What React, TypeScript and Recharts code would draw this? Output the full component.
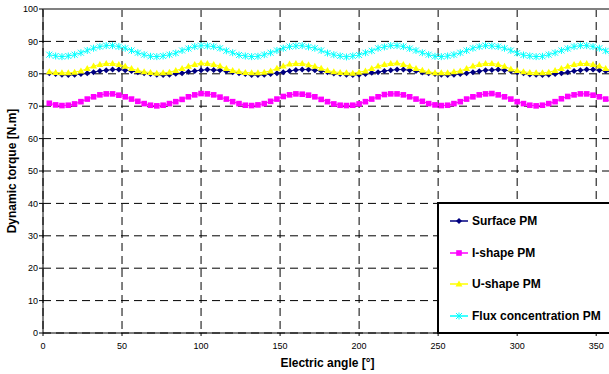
import React from 'react';
import { LineChart, Line, XAxis, YAxis, CartesianGrid, Legend, ReferenceLine } from 'recharts';

// electric angle [deg], one sample every 4 degrees
const angles = [
  4, 8, 12, 16, 20, 24, 28, 32, 36, 40, 44, 48, 52, 56, 60,
  64, 68, 72, 76, 80, 84, 88, 92, 96, 100, 104, 108, 112, 116, 120,
  124, 128, 132, 136, 140, 144, 148, 152, 156, 160, 164, 168, 172, 176, 180,
  184, 188, 192, 196, 200, 204, 208, 212, 216, 220, 224, 228, 232, 236, 240,
  244, 248, 252, 256, 260, 264, 268, 272, 276, 280, 284, 288, 292, 296, 300,
  304, 308, 312, 316, 320, 324, 328, 332, 336, 340, 344, 348, 352, 356, 360,
];

// dynamic torque [N.m]
const surfacePM = [
  80.2, 79.9, 79.7, 79.6, 79.7, 79.9, 80.2, 80.5, 80.9, 81.1, 81.3, 81.3, 81.1, 80.9, 80.5,
  80.2, 79.9, 79.7, 79.6, 79.7, 80.0, 80.2, 80.6, 80.9, 81.1, 81.3, 81.2, 81.1, 80.8, 80.5,
  80.2, 79.9, 79.6, 79.6, 79.7, 79.9, 80.2, 80.5, 80.9, 81.2, 81.3, 81.3, 81.1, 80.9, 80.5,
  80.1, 79.9, 79.7, 79.6, 79.7, 79.9, 80.3, 80.5, 80.9, 81.1, 81.3, 81.3, 81.1, 80.9, 80.4,
  80.2, 79.9, 79.7, 79.6, 79.7, 79.9, 80.2, 80.5, 80.8, 81.1, 81.2, 81.3, 81.1, 80.9, 80.5,
  80.2, 79.8, 79.7, 79.6, 79.7, 79.9, 80.2, 80.5, 80.9, 81.1, 81.3, 81.3, 81.1, 80.9, 80.5,
];

const iShapePM = [
  70.9, 70.4, 70.2, 70.3, 70.7, 71.4, 72.2, 72.9, 73.5, 73.8, 73.8, 73.4, 72.9, 72.2, 71.5,
  70.8, 70.3, 70.1, 70.3, 70.8, 71.4, 72.1, 72.9, 73.5, 73.9, 73.8, 73.5, 72.8, 72.2, 71.4,
  70.8, 70.3, 70.2, 70.4, 70.8, 71.5, 72.2, 73.0, 73.5, 73.8, 73.7, 73.4, 72.9, 72.1, 71.4,
  70.7, 70.3, 70.2, 70.3, 70.7, 71.4, 72.2, 72.9, 73.6, 73.8, 73.8, 73.5, 72.9, 72.2, 71.5,
  70.8, 70.4, 70.2, 70.3, 70.8, 71.4, 72.2, 72.9, 73.5, 73.8, 73.9, 73.5, 72.9, 72.2, 71.4,
  70.8, 70.3, 70.1, 70.3, 70.8, 71.4, 72.3, 73.0, 73.5, 73.8, 73.8, 73.4, 72.9, 72.2, 71.4,
];

const uShapePM = [
  80.6, 80.4, 80.3, 80.3, 80.5, 80.9, 81.6, 82.4, 82.9, 83.2, 83.2, 82.9, 82.3, 81.6, 81.0,
  80.6, 80.4, 80.2, 80.3, 80.5, 81.0, 81.6, 82.3, 82.9, 83.3, 83.2, 82.9, 82.4, 81.6, 81.0,
  80.7, 80.4, 80.3, 80.3, 80.5, 80.9, 81.7, 82.4, 83.0, 83.2, 83.2, 82.8, 82.3, 81.7, 81.0,
  80.6, 80.4, 80.3, 80.2, 80.5, 80.9, 81.6, 82.4, 82.9, 83.2, 83.3, 82.9, 82.3, 81.6, 81.1,
  80.6, 80.3, 80.3, 80.3, 80.6, 80.9, 81.6, 82.4, 82.9, 83.2, 83.2, 82.9, 82.3, 81.5, 81.0,
  80.6, 80.4, 80.3, 80.3, 80.5, 81.0, 81.6, 82.3, 82.9, 83.2, 83.2, 82.9, 82.4, 81.6, 81.0,
];

const fluxPM = [
  85.9, 85.5, 85.3, 85.5, 85.9, 86.5, 87.2, 87.9, 88.4, 88.7, 88.7, 88.4, 87.9, 87.2, 86.5,
  85.9, 85.4, 85.3, 85.5, 85.9, 86.4, 87.2, 87.8, 88.4, 88.7, 88.6, 88.4, 87.9, 87.1, 86.5,
  85.8, 85.5, 85.3, 85.4, 85.9, 86.5, 87.2, 87.9, 88.4, 88.6, 88.7, 88.3, 87.9, 87.2, 86.4,
  85.9, 85.5, 85.2, 85.5, 85.8, 86.5, 87.1, 87.9, 88.3, 88.7, 88.7, 88.4, 87.8, 87.2, 86.5,
  85.9, 85.4, 85.3, 85.5, 85.9, 86.5, 87.2, 87.9, 88.4, 88.7, 88.6, 88.4, 87.9, 87.2, 86.4,
  85.8, 85.5, 85.3, 85.4, 85.9, 86.5, 87.2, 87.8, 88.4, 88.7, 88.7, 88.4, 87.9, 87.1, 86.5,
];

const xTicks = [0, 50, 100, 150, 200, 250, 300, 350];
const yTicks = [0, 10, 20, 30, 40, 50, 60, 70, 80, 90, 100];

const data = angles.map((angle, i) => ({
  angle,
  surface: surfacePM[i],
  ishape: iShapePM[i],
  ushape: uShapePM[i],
  flux: fluxPM[i],
}));

const FONT = 'Arial, "Liberation Sans", sans-serif';

const series = [
  { key: 'surface', name: 'Surface PM', color: '#000080', shape: 'diamond' },
  { key: 'ishape', name: 'I-shape PM', color: '#FF00FF', shape: 'square' },
  { key: 'ushape', name: 'U-shape PM', color: '#FFFF00', shape: 'triangle' },
  { key: 'flux', name: 'Flux concentration PM', color: '#00FFFF', shape: 'star' },
];

const Marker = ({ cx, cy, shape, color }: { cx: number; cy: number; shape: string; color: string }) => {
  if (cx == null || cy == null) return null;
  switch (shape) {
    case 'diamond':
      return <polygon points={`${cx},${cy - 3} ${cx + 3},${cy} ${cx},${cy + 3} ${cx - 3},${cy}`} fill={color} />;
    case 'square':
      return <rect x={cx - 2.8} y={cy - 2.8} width={5.6} height={5.6} fill={color} />;
    case 'triangle':
      return <polygon points={`${cx},${cy - 3.5} ${cx + 3.5},${cy + 2.5} ${cx - 3.5},${cy + 2.5}`} fill={color} />;
    default:
      return (
        <g stroke={color} strokeWidth={1}>
          <line x1={cx - 3} y1={cy - 3} x2={cx + 3} y2={cy + 3} />
          <line x1={cx - 3} y1={cy + 3} x2={cx + 3} y2={cy - 3} />
          <line x1={cx} y1={cy - 3.5} x2={cx} y2={cy + 3.5} />
        </g>
      );
  }
};

// legend keeps the series order (Excel style), not alphabetical
const renderLegend = () => (
  <div style={{ paddingTop: 1 }}>
    {series.map((s) => (
      <div key={s.key} style={{ height: 31.7, display: 'flex', alignItems: 'center' }}>
        <svg width={33} height={10} style={{ flex: 'none' }}>
          <line x1={11} y1={5} x2={29} y2={5} stroke={s.color} strokeWidth={1.5} />
          <Marker cx={20} cy={5} shape={s.shape} color={s.color} />
        </svg>
        <span style={{ fontFamily: FONT, fontWeight: 'bold', fontSize: 12, color: '#000', whiteSpace: 'nowrap' }}>
          {s.name}
        </span>
      </div>
    ))}
  </div>
);

const YLabel = (props: any) => {
  const vb = props.viewBox || { x: 0, y: 9, width: 43, height: 324 };
  const cx = vb.x + 11.5;
  const cy = vb.y + vb.height / 2;
  return (
    <text
      x={cx}
      y={cy}
      transform={`rotate(-90 ${cx} ${cy})`}
      textAnchor="middle"
      dominantBaseline="central"
      fontFamily={FONT}
      fontWeight="bold"
      fontSize={12}
      fill="#000"
    >
      Dynamic torque [N.m]
    </text>
  );
};

export default function App() {
  return (
    <div style={{ position: 'absolute', left: 0, top: 0, width: 609, height: 374, overflow: 'hidden', background: '#fff' }}>
      <LineChart width={612} height={374} data={data} margin={{ top: 9, right: 0, left: 0, bottom: 0 }}>
        <CartesianGrid stroke="#000" strokeDasharray="8 5" />
        <XAxis
          dataKey="angle"
          type="number"
          domain={[0, 360]}
          ticks={xTicks}
          height={41}
          tickSize={3}
          tickMargin={7}
          axisLine={{ stroke: '#000' }}
          tickLine={{ stroke: '#000' }}
          tick={{ fontSize: 9, fill: '#000', fontFamily: FONT }}
          label={{
            value: 'Electric angle [°]',
            position: 'insideBottom',
            offset: 7,
            style: { fontFamily: FONT, fontWeight: 'bold', fontSize: 12, fill: '#000' },
          }}
        />
        <YAxis
          type="number"
          domain={[0, 100]}
          ticks={yTicks}
          width={43}
          tickSize={4}
          tickMargin={1}
          axisLine={{ stroke: '#000' }}
          tickLine={{ stroke: '#000' }}
          tick={{ fontSize: 9, fill: '#000', fontFamily: FONT }}
          label={<YLabel />}
        />
        <ReferenceLine y={100} stroke="#808080" strokeWidth={2} />
        <Legend
          layout="horizontal"
          align="center"
          verticalAlign="middle"
          content={renderLegend}
          wrapperStyle={{
            left: 437,
            top: 202,
            width: 190,
            height: 132,
            border: '2px solid #000',
            background: '#fff',
            boxSizing: 'border-box',
          }}
        />
        {series.map((s) => (
          <Line
            key={s.key}
            type="linear"
            dataKey={s.key}
            name={s.name}
            stroke={s.color}
            strokeWidth={1}
            isAnimationActive={false}
            activeDot={false}
            dot={(p: any) => <Marker key={`${s.key}-${p.index}`} cx={p.cx} cy={p.cy} shape={s.shape} color={s.color} />}
          />
        ))}
      </LineChart>
    </div>
  );
}
